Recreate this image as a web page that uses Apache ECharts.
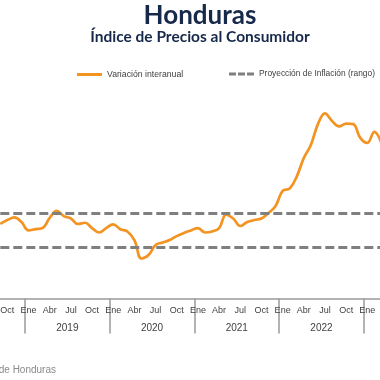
<!DOCTYPE html>
<html>
<head>
<meta charset="utf-8">
<script src="https://cdn.jsdelivr.net/npm/echarts@6/dist/echarts.min.js"></script>
<style>
html,body{margin:0;padding:0;width:380px;height:380px;overflow:hidden;background:#fff;}
#chart{position:absolute;left:-100px;top:0;width:600px;height:380px;}
</style>
</head>
<body>
<div id="chart"></div>
<script>
// Month labels (Spanish) and years shown on the axis
const monthNames = ['Ene','Feb','Mar','Abr','May','Jun','Jul','Ago','Sep','Oct','Nov','Dic'];
const years = ['2018','2019','2020','2021','2022','2023'];
// Year-on-year inflation (%), monthly, Jan 2018 .. Dec 2023 (null = not visible)
const inflation2018 = [null,null,null,null,null,null,null,null,4.36,4.59,4.74,4.47];
const inflation2019 = [3.98,4.06,4.12,4.71,5.12,4.82,4.68,4.36,4.43,4.12,3.86,4.12];
const inflation2020 = [4.34,4.05,3.92,3.42,2.34,2.54,3.13,3.27,3.42,3.65,3.83,3.98];
const inflation2021 = [4.12,3.86,3.92,4.12,4.91,4.68,4.24,4.47,4.59,4.68,5.00,5.41];
const inflation2022 = [6.29,6.43,7.13,8.22,8.98,10.20,10.83,10.38,10.06,10.23,10.20,9.39];
const inflation2023 = [9.10,9.74,9.10,null,null,null,null,null,null,null,null,null];
// Inflation projection range (%)
const projectionRange = [3, 5];

const categories = [];
years.forEach(y => monthNames.forEach(m => categories.push(m + ' ' + y)));
const inflation = [].concat(inflation2018, inflation2019, inflation2020, inflation2021, inflation2022, inflation2023);

const chart = echarts.init(document.getElementById('chart'), null, {renderer: 'canvas'});
const txt = '#404040';
const axisGray = '#9a9a9a';
chart.setOption({
  animation: false,
  backgroundColor: '#ffffff',
  title: [
    {text: 'Honduras', left: 'center', top: 3, padding: 0,
     textStyle: {fontFamily: 'Lato', fontWeight: 'bold', fontSize: 26, color: '#16294a'}},
    {text: 'Índice de Precios al Consumidor', left: 'center', top: 29, padding: 0,
     textStyle: {fontFamily: 'Lato', fontWeight: 'bold', fontSize: 15.5, color: '#16294a'}},
    {text: 'Fuente: Banco Central de Honduras', right: 444, top: 365, padding: 0,
     textStyle: {fontFamily: 'Liberation Sans', fontWeight: 'normal', fontSize: 10, color: '#8a8a8a'}}
  ],
  legend: [
    {data: [{name: 'Variación interanual', icon: 'rect'}], left: 177, top: 70, itemWidth: 25, itemHeight: 3, padding: 0,
     textStyle: {fontFamily: 'Liberation Sans', fontSize: 8.7, color: txt}},
    {data: [{name: 'Proyección de Inflación (rango)', icon: 'path://M0,0h7v3h-7z M9,0h7v3h-7z M18,0h7v3h-7z'}],
     left: 329, top: 70, itemWidth: 25, itemHeight: 3, padding: 0,
     textStyle: {fontFamily: 'Liberation Sans', fontSize: 8.4, color: txt}}
  ],
  grid: {left: 40.3, width: 508.2, top: 93.3, height: 205.2, containLabel: false},
  xAxis: [
    {type: 'category', data: categories, boundaryGap: true, position: 'bottom',
     axisLine: {show: true, lineStyle: {color: axisGray, width: 1.5}},
     axisTick: {show: false},
     axisLabel: {interval: 2, margin: 8, fontFamily: 'Liberation Sans', fontSize: 9, color: txt,
                 formatter: v => v.split(' ')[0]},
     splitLine: {show: false}},
    {type: 'category', data: years, boundaryGap: true, position: 'bottom',
     axisLine: {show: false},
     axisTick: {show: true, length: 35, interval: 0, lineStyle: {color: axisGray, width: 1.5}},
     axisLabel: {interval: 0, margin: 25, fontFamily: 'Liberation Sans', fontSize: 10, color: txt},
     splitLine: {show: false}}
  ],
  yAxis: {type: 'value', min: 0, max: 12, show: false, splitLine: {show: false}},
  series: [
    {name: 'Variación interanual', type: 'line', xAxisIndex: 0, data: inflation,
     smooth: 0.4, symbol: 'none', connectNulls: false,
     lineStyle: {color: '#f39322', width: 2.7}, itemStyle: {color: '#f39322'}, z: 3},
    {name: 'Proyección de Inflación (rango)', type: 'line', xAxisIndex: 0,
     data: categories.map(() => null), symbol: 'none',
     lineStyle: {color: '#7f7f7f', width: 3, type: [9, 4]}, itemStyle: {color: '#7f7f7f'},
     markLine: {silent: true, symbol: 'none', label: {show: false},
       lineStyle: {color: '#7f7f7f', width: 3, type: [9, 4], dashOffset: 5},
       data: projectionRange.map(v => ({yAxis: v}))}, z: 2}
  ]
});
</script>
</body>
</html>
